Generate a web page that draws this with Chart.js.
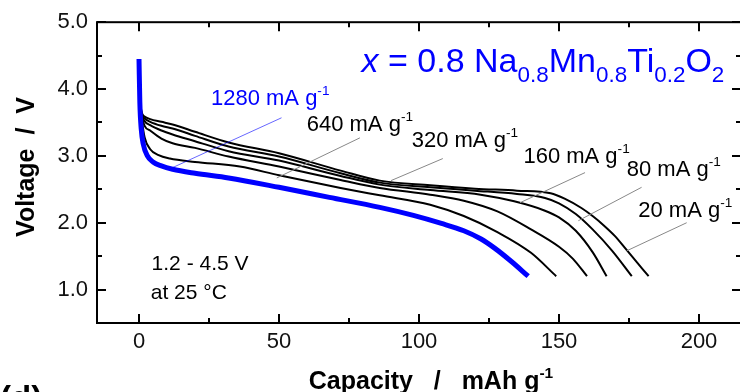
<!DOCTYPE html>
<html lang="en">
<head>
	<meta charset="utf-8">
	<title>Rate capability</title>
	<script src="https://cdn.jsdelivr.net/npm/chart.js@4.4.1/dist/chart.umd.min.js"></script>
	<style>
		html, body { margin: 0; padding: 0; background: #fff; overflow: hidden; }
		.div-chart { position: relative; width: 744px; height: 392px; }
	</style>
</head>
<body>
	<div class="div-chart"><canvas id="rate" width="744" height="392"></canvas></div>
	<script>
		// discharge curves, [capacity mAh/g, voltage V]
		const c1280 = [[0, 4.45], [0.3, 3.8], [0.8, 3.4], [1.5, 3.18], [3, 3.0], [5, 2.91], [8, 2.85], [12, 2.8], [20, 2.74], [32, 2.67], [50, 2.53], [68, 2.38], [86, 2.23], [98, 2.11], [108, 1.99], [116, 1.88], [122, 1.76], [127, 1.62], [133, 1.42], [139, 1.2]];
		const c640 = [[0, 4.45], [0.3, 3.85], [1, 3.55], [2, 3.28], [4, 3.1], [7, 3.01], [11, 2.96], [20, 2.91], [36, 2.84], [50, 2.71], [72, 2.52], [86, 2.41], [104, 2.27], [116, 2.1], [128, 1.86], [140, 1.55], [149, 1.2]];
		const c320 = [[0, 4.45], [0.3, 3.88], [1, 3.6], [2, 3.45], [4, 3.38], [8, 3.26], [12, 3.19], [20, 3.12], [32, 2.99], [50, 2.84], [72, 2.64], [86, 2.52], [104, 2.42], [116, 2.33], [128, 2.17], [140, 1.9], [150, 1.64], [155, 1.46], [160, 1.2]];
		const c160 = [[0, 4.45], [0.3, 3.9], [1, 3.62], [2, 3.52], [4, 3.46], [8, 3.38], [12, 3.32], [20, 3.22], [32, 3.07], [50, 2.93], [72, 2.7], [86, 2.57], [104, 2.49], [122, 2.42], [134, 2.32], [145, 2.18], [150, 2.08], [156, 1.88], [162, 1.56], [167, 1.2]];
		const c80 = [[0, 4.45], [0.3, 3.92], [1, 3.63], [2, 3.56], [4, 3.51], [8, 3.45], [12, 3.41], [20, 3.3], [32, 3.14], [50, 2.99], [72, 2.74], [86, 2.6], [104, 2.53], [120, 2.48], [135, 2.43], [145, 2.37], [150, 2.29], [156, 2.13], [162, 1.9], [169, 1.58], [176, 1.2]];
		const c20 = [[0, 4.45], [0.3, 3.94], [1, 3.65], [2, 3.59], [4, 3.55], [8, 3.51], [12, 3.47], [20, 3.36], [32, 3.2], [50, 3.04], [72, 2.78], [86, 2.63], [104, 2.56], [120, 2.51], [135, 2.48], [147, 2.44], [152, 2.36], [158, 2.22], [162, 2.1], [166, 1.96], [170, 1.8], [174, 1.6], [178, 1.4], [182, 1.2]];

		const rates = ['1280', '640', '320', '160', '80', '20'];
		const xTicks = [0, 50, 100, 150, 200];
		const xMinor = [25, 75, 125, 175];
		const yTicks = [1, 2, 3, 4, 5];
		const yMinor = [1.5, 2.5, 3.5, 4.5];

		const FONT = '"Liberation Sans", Arial, sans-serif';
		const BLUE = '#0000ff';

		// text placed in data units: [capacity, voltage] of the left end of the baseline
		const notes = [
			{ at: [25.7, 3.76], color: BLUE, parts: [['1280 mA g'], ['-1', 'sup']] },
			{ at: [59.9, 3.37], color: '#000', parts: [['640 mA g'], ['-1', 'sup']] },
			{ at: [97.4, 3.13], color: '#000', parts: [['320 mA g'], ['-1', 'sup']] },
			{ at: [137.3, 2.89], color: '#000', parts: [['160 mA g'], ['-1', 'sup']] },
			{ at: [174.2, 2.70], color: '#000', parts: [['80 mA g'], ['-1', 'sup']] },
			{ at: [178.3, 2.09], color: '#000', parts: [['20 mA g'], ['-1', 'sup']] }
		];
		// leader lines from label to curve
		const leaders = [
			[50.9, 3.57, 10.7, 2.80, 'rgba(0,0,255,0.6)'],
			[78.9, 3.27, 49.2, 2.67, '#888'],
			[108.5, 2.96, 90, 2.63, '#888'],
			[159.3, 2.75, 136.1, 2.30, '#888'],
			[179.5, 2.53, 156.9, 2.03, '#888'],
			[195.6, 2.00, 174.2, 1.58, '#888']
		];

		function partFont(p, size, weight) {
			let s = size, style = '';
			if (p[1] === 'sub') s = size * 0.66;
			if (p[1] === 'sup') s = size * 0.62;
			if (p[1] === 'it') style = 'italic ';
			return style + (weight || 'normal') + ' ' + s + 'px ' + FONT;
		}

		function drawRich(ctx, x, y, parts, size, color, weight) {
			let cx = x;
			ctx.fillStyle = color;
			ctx.textAlign = 'left';
			ctx.textBaseline = 'alphabetic';
			parts.forEach(p => {
				let dy = 0;
				if (p[1] === 'sub') dy = size * 0.3;
				if (p[1] === 'sup') dy = -size * 0.45;
				ctx.font = partFont(p, size, weight);
				ctx.fillText(p[0], cx, y + dy);
				cx += ctx.measureText(p[0]).width;
			});
			return cx - x;
		}

		function richWidth(ctx, parts, size, weight) {
			let w = 0;
			parts.forEach(p => {
				ctx.font = partFont(p, size, weight);
				w += ctx.measureText(p[0]).width;
			});
			return w;
		}

		//Moldura com ticks para dentro nos quatro lados
		const framePlugin = {
			id: 'frame',
			afterDatasetsDraw(chart) {
				const ctx = chart.ctx, a = chart.chartArea;
				const xs = chart.scales.x, ys = chart.scales.y;
				ctx.save();
				ctx.strokeStyle = '#000';
				ctx.lineWidth = 2;
				ctx.strokeRect(a.left, a.top, a.right - a.left, a.bottom - a.top);
				ctx.beginPath();
				const xt = (v, len) => {
					const px = Math.round(xs.getPixelForValue(v));
					ctx.moveTo(px, a.bottom); ctx.lineTo(px, a.bottom - len);
					ctx.moveTo(px, a.top); ctx.lineTo(px, a.top + len);
				};
				const yt = (v, len) => {
					const py = Math.round(ys.getPixelForValue(v));
					ctx.moveTo(a.left, py); ctx.lineTo(a.left + len, py);
					ctx.moveTo(a.right, py); ctx.lineTo(a.right - len, py);
				};
				xTicks.forEach(v => xt(v, 9));
				xMinor.forEach(v => xt(v, 5));
				yTicks.forEach(v => yt(v, 9));
				yMinor.forEach(v => yt(v, 5));
				ctx.stroke();
				ctx.restore();
			},
			afterDraw(chart) {
				const ctx = chart.ctx;
				const xs = chart.scales.x, ys = chart.scales.y;
				ctx.save();
				// leaders
				ctx.lineWidth = 1;
				leaders.forEach(l => {
					ctx.strokeStyle = l[4];
					ctx.beginPath();
					ctx.moveTo(xs.getPixelForValue(l[0]), ys.getPixelForValue(l[1]));
					ctx.lineTo(xs.getPixelForValue(l[2]), ys.getPixelForValue(l[3]));
					ctx.stroke();
				});
				// rate labels
				notes.forEach(n => {
					drawRich(ctx, xs.getPixelForValue(n.at[0]), ys.getPixelForValue(n.at[1]), n.parts, 22, n.color);
				});
				// composition
				drawRich(ctx, xs.getPixelForValue(79.5), ys.getPixelForValue(4.26),
					[['x', 'it'], [' = 0.8 Na'], ['0.8', 'sub'], ['Mn'], ['0.8', 'sub'], ['Ti'], ['0.2', 'sub'], ['O'], ['2', 'sub']], 34, BLUE);
				// conditions
				drawRich(ctx, xs.getPixelForValue(4.5), ys.getPixelForValue(1.29), [['1.2 - 4.5 V']], 21, '#000');
				drawRich(ctx, xs.getPixelForValue(4.2), ys.getPixelForValue(0.865), [['at 25 °C']], 21, '#000');

				// axis titles
				const xt = [['Capacity   /   mAh g'], ['-1', 'sup']];
				const w = richWidth(ctx, xt, 25, 'bold');
				drawRich(ctx, 431 - w / 2, 389, xt, 25, '#000', 'bold');

				ctx.translate(34, 167);
				ctx.rotate(-Math.PI / 2);
				ctx.font = 'bold 25px ' + FONT;
				ctx.textAlign = 'center';
				ctx.textBaseline = 'alphabetic';
				ctx.fillStyle = '#000';
				ctx.fillText('Voltage  /  V', 0, 0);
				ctx.restore();

				// panel letter, cut by the bottom edge
				ctx.save();
				drawRich(ctx, 0, 409, [['(d)']], 33, '#000', 'bold');
				ctx.restore();
			}
		};

		const series = [c1280, c640, c320, c160, c80, c20];
		const datasets = series.map((pts, i) => ({
			label: rates[i] + ' mA g-1',
			data: pts.map(p => ({ x: p[0], y: p[1] })),
			showLine: true,
			borderColor: i === 0 ? BLUE : '#000',
			borderWidth: i === 0 ? 5 : 2,
			pointRadius: 0,
			cubicInterpolationMode: 'monotone',
			fill: false
		}));

		Chart.defaults.font.family = FONT;

		new Chart(document.getElementById('rate'), {
			type: 'scatter',
			data: { datasets: datasets },
			plugins: [framePlugin],
			options: {
				responsive: false,
				animation: false,
				devicePixelRatio: 1,
				layout: { padding: { top: 20, right: 3, left: 0, bottom: 0 } },
				plugins: { legend: { display: false }, tooltip: { enabled: false } },
				scales: {
					x: {
						type: 'linear',
						min: -15,
						max: 215,
						grid: { display: false, drawTicks: false },
						border: { display: false },
						afterBuildTicks: s => { s.ticks = xTicks.map(v => ({ value: v })); },
						afterFit: s => { s.height = 69; },
						ticks: { padding: 6, color: '#111', font: { size: 22 }, maxRotation: 0, callback: v => String(v) }
					},
					y: {
						type: 'linear',
						min: 0.5,
						max: 5.0,
						grid: { display: false, drawTicks: false },
						border: { display: false },
						afterBuildTicks: s => { s.ticks = yTicks.map(v => ({ value: v })); },
						afterFit: s => { s.width = 97; },
						ticks: { padding: 9, color: '#111', font: { size: 22 }, callback: v => Number(v).toFixed(1) }
					}
				}
			}
		});
	</script>
</body>
</html>
